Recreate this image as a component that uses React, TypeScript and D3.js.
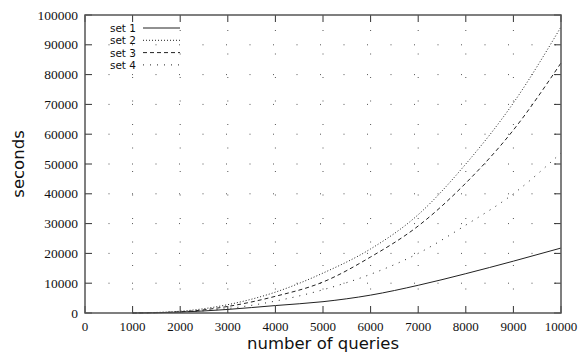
import React from "react";
import * as d3 from "d3";

const queries = [1000, 2000, 3000, 4000, 5000, 6000, 7000, 8000, 9000, 10000];
const set1 = [0, 300, 1200, 2500, 3800, 6000, 9300, 13200, 17400, 21800];
const set2 = [0, 600, 2800, 7000, 13400, 21500, 33000, 50000, 70500, 96000];
const set3 = [0, 400, 2200, 5600, 10400, 18800, 29200, 43600, 61400, 83900];
const set4 = [0, 300, 1500, 4000, 7800, 13000, 20000, 29500, 40000, 53700];

const seriesNames = ["set 1", "set 2", "set 3", "set 4"];
const xTicks = [0, 1000, 2000, 3000, 4000, 5000, 6000, 7000, 8000, 9000, 10000];
const yTicks = [0, 10000, 20000, 30000, 40000, 50000, 60000, 70000, 80000, 90000, 100000];

const W = 587;
const H = 353;
const margin = { top: 15, right: 26, bottom: 40, left: 85 };
const dashes = ["none", "1,2", "4,3", "1,6"];

export default function App() {
  const x = d3.scaleLinear().domain([0, 10000]).range([margin.left, W - margin.right]);
  const y = d3.scaleLinear().domain([0, 100000]).range([H - margin.bottom, margin.top]);
  const all = [set1, set2, set3, set4];

  const line = d3
    .line<number>()
    .x((d, i) => x(queries[i]))
    .y((d) => y(d))
    .curve(d3.curveMonotoneX);

  const left = x(0), right = x(10000), top = y(100000), bottom = y(0);
  const tick = 7;
  const rowH = 12.3;

  return (
    <svg width={W} height={H} style={{ position: "absolute", left: 0, top: 0 }}>
      <rect width={W} height={H} fill="#fff" />
      {/* grid */}
      {xTicks.slice(1, -1).map((t) => (
        <line key={"gx" + t} x1={x(t)} x2={x(t)} y1={bottom} y2={top}
          stroke="#555" strokeDasharray="1,22.5" />
      ))}
      {yTicks.slice(1, -1).map((t) => (
        <line key={"gy" + t} x1={left} x2={right} y1={y(t)} y2={y(t)}
          stroke="#555" strokeDasharray="1,22.5" />
      ))}
      {/* ticks */}
      {xTicks.map((t) => (
        <g key={"tx" + t}>
          <line x1={x(t)} x2={x(t)} y1={bottom} y2={bottom - tick} stroke="#333" />
          <line x1={x(t)} x2={x(t)} y1={top} y2={top + tick} stroke="#333" />
          <text x={x(t)} y={bottom + 18} textAnchor="middle"
            fontFamily="Liberation Serif" fontSize={13} fill="#111">{t}</text>
        </g>
      ))}
      {yTicks.map((t) => (
        <g key={"ty" + t}>
          <line x1={left} x2={left + tick} y1={y(t)} y2={y(t)} stroke="#333" />
          <line x1={right} x2={right - tick} y1={y(t)} y2={y(t)} stroke="#333" />
          <text x={left - 7} y={y(t) + 4.5} textAnchor="end"
            fontFamily="Liberation Serif" fontSize={13.5} fill="#111">{t}</text>
        </g>
      ))}
      {/* curves */}
      {all.map((s, i) => (
        <path key={"s" + i} d={line(s) || ""} fill="none" stroke="#222"
          strokeWidth={1} strokeDasharray={dashes[i]} />
      ))}
      {/* legend */}
      {seriesNames.map((n, i) => (
        <g key={"l" + n}>
          <text x={136} y={32 + i * rowH} textAnchor="end"
            fontFamily="DejaVu Sans" fontSize={10.5} fill="#111">{n}</text>
          <line x1={143} x2={180} y1={28 + i * rowH} y2={28 + i * rowH}
            stroke="#222" strokeDasharray={dashes[i]} />
        </g>
      ))}
      {/* border */}
      <rect x={left} y={top} width={right - left} height={bottom - top}
        fill="none" stroke="#555" strokeWidth={1.5} />
      <text x={(left + right) / 2} y={349} textAnchor="middle"
        fontFamily="DejaVu Sans" fontSize={16.5} fill="#111">number of queries</text>
      <text transform={`translate(24,${(top + bottom) / 2}) rotate(-90)`} textAnchor="middle"
        fontFamily="DejaVu Sans" fontSize={16.5} fill="#111">seconds</text>
    </svg>
  );
}
